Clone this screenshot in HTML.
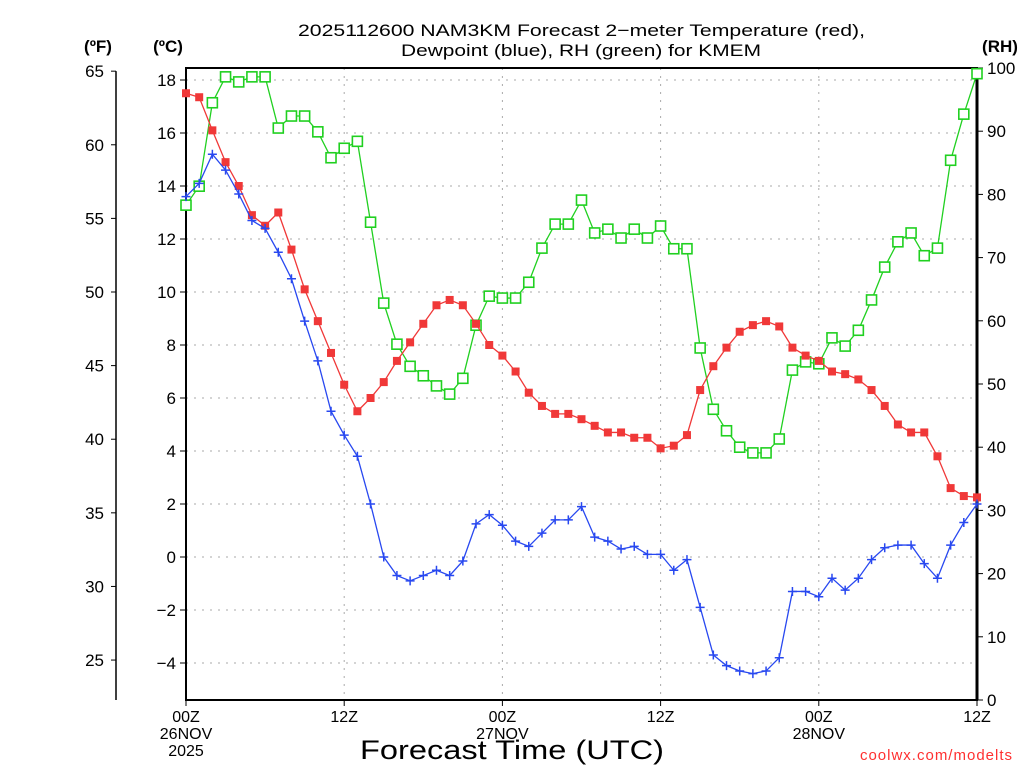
<!DOCTYPE html>
<html><head><meta charset="utf-8"><style>
html,body{margin:0;padding:0;background:#fff;}
svg{display:block;font-family:"Liberation Sans","DejaVu Sans",sans-serif;}
</style></head><body>
<svg id="chart" width="1024" height="768" viewBox="0 0 1024 768" xmlns="http://www.w3.org/2000/svg">
<rect width="1024" height="768" fill="#fff"/>
<g font-size="17" fill="#000">
<text x="298" y="36" textLength="567" lengthAdjust="spacingAndGlyphs">2025112600 NAM3KM Forecast 2−meter Temperature (red),</text>
<text x="401" y="56" textLength="360" lengthAdjust="spacingAndGlyphs">Dewpoint (blue), RH (green) for KMEM</text>
</g>
<text x="98" y="52" font-size="17" font-weight="bold" text-anchor="middle">(ºF)</text>
<text x="168" y="52" font-size="17" font-weight="bold" text-anchor="middle">(ºC)</text>
<text x="1000" y="52" font-size="17" font-weight="bold" text-anchor="middle">(RH)</text>
<g id="grid"></g>
<g id="axes"></g>
<g id="series"></g>
<text x="360" y="759" font-size="27" textLength="304" lengthAdjust="spacingAndGlyphs">Forecast Time (UTC)</text>
<text x="1013" y="760" font-size="15" fill="#ff3030" text-anchor="end" letter-spacing="1">coolwx.com/modelts</text>
</svg>
<script>
const hours = Array.from({length:61},(_,i)=>i);
const tempC = [17.5,17.35,16.1,14.9,14.0,12.9,12.5,13.0,11.6,10.1,8.9,7.7,6.5,5.5,6.0,6.6,7.4,8.1,8.8,9.5,9.7,9.5,8.8,8.0,7.6,7.0,6.2,5.7,5.4,5.4,5.2,4.95,4.7,4.7,4.5,4.5,4.1,4.2,4.6,6.3,7.2,7.9,8.5,8.75,8.9,8.7,7.9,7.6,7.4,7.0,6.9,6.7,6.3,5.7,5.0,4.7,4.7,3.8,2.6,2.3,2.25];
const dewC = [13.6,14.1,15.2,14.6,13.7,12.7,12.4,11.5,10.5,8.9,7.4,5.5,4.6,3.8,2.0,0.0,-0.7,-0.9,-0.7,-0.5,-0.7,-0.15,1.25,1.6,1.2,0.6,0.4,0.9,1.4,1.4,1.9,0.75,0.6,0.3,0.4,0.1,0.1,-0.5,-0.1,-1.9,-3.7,-4.1,-4.3,-4.4,-4.3,-3.8,-1.3,-1.3,-1.5,-0.8,-1.25,-0.8,-0.1,0.35,0.45,0.45,-0.25,-0.8,0.45,1.3,2.0];
const rh = [78.3,81.3,94.5,98.6,97.8,98.6,98.6,90.5,92.4,92.4,89.9,85.8,87.3,88.4,75.6,62.8,56.3,52.8,51.3,49.7,48.4,50.9,59.3,63.9,63.6,63.6,66.1,71.5,75.3,75.3,79.1,73.9,74.5,73.1,74.5,73.1,75.0,71.4,71.4,55.7,46.0,42.6,40.0,39.1,39.1,41.3,52.2,53.5,53.2,57.3,56.0,58.5,63.3,68.5,72.5,73.9,70.3,71.5,85.4,92.7,99.1];
const cTicks = [-4,-2,0,2,4,6,8,10,12,14,16,18];
const fTicks = [25,30,35,40,45,50,55,60,65];
const rhTicks = [0,10,20,30,40,50,60,70,80,90,100];
const xTickHours = [0,12,24,36,48,60];
const xTickLabels = [["00Z","26NOV","2025"],["12Z"],["00Z","27NOV"],["12Z"],["00Z","28NOV"],["12Z"]];

const L=186,R=977,T=68,B=700;
const xs = h => L + h*(R-L)/60;
const yC = c => 557 - c*26.5;
const yF = f => yC((f-32)*5/9);
const yRH = r => B - r*(B-T)/100;
const NS="http://www.w3.org/2000/svg";
function mk(tag, parent, attrs){const e=document.createElementNS(NS,tag);for(const k in attrs)e.setAttribute(k,attrs[k]);parent.appendChild(e);return e;}
const grid=document.getElementById('grid'), axes=document.getElementById('axes'), series=document.getElementById('series');

cTicks.forEach(c=>{
  const y=yC(c);
  const g=mk('line',grid,{x1:L,x2:R,y1:y,y2:y,stroke:'#aaa','stroke-dasharray':'2,6'});
  
  
  mk('line',axes,{x1:L-6,x2:L,y1:y,y2:y,stroke:'#000'});
  const t=mk('text',axes,{x:L-10,y:y+6,'font-size':17,'text-anchor':'end'});
  t.textContent=(c<0?'−'+(-c):c);
  
  
});
xTickHours.forEach((h,i)=>{
  const x=xs(h);
  if(h>0&&h<60){const g=mk('line',grid,{x1:x,x2:x,y1:T,y2:B,stroke:'#aaa','stroke-dasharray':'2,6'});
  
  }
  mk('line',axes,{x1:x,x2:x,y1:B,y2:B+6,stroke:'#000'});
  xTickLabels[i].forEach((s,j)=>{
    const t=mk('text',axes,{x:x,y:B+22+j*17,'font-size':16,'text-anchor':'middle'});
    t.textContent=s;
    
    
  });
});
mk('line',axes,{x1:116,x2:116,y1:yF(65),y2:B,stroke:'#000','stroke-width':1.5});
fTicks.forEach(f=>{
  const y=yF(f);
  mk('line',axes,{x1:111,x2:116,y1:y,y2:y,stroke:'#000'});
  const t=mk('text',axes,{x:104,y:y+6,'font-size':17,'text-anchor':'end'});
  t.textContent=f;
  
  
});
rhTicks.forEach(r=>{
  const y=yRH(r);
  mk('line',axes,{x1:R,x2:R+6,y1:y,y2:y,stroke:'#000'});
  const t=mk('text',axes,{x:R+10,y:y+6,'font-size':17,'text-anchor':'start'});
  t.textContent=r;
  
  
});
mk('rect',axes,{x:L,y:T,width:R-L,height:B-T,fill:'none',stroke:'#000','stroke-width':2});
mk('line',axes,{x1:R,x2:R,y1:T,y2:B,stroke:'#000','stroke-width':3});

function pts(vals,fy){return vals.map((v,i)=>xs(hours[i])+','+fy(v)).join(' ');}
const rl=mk('polyline',series,{points:pts(rh,yRH),fill:'none',stroke:'#20d020','stroke-width':1.3});


rh.forEach((v,i)=>{
  const m=mk('rect',series,{x:xs(hours[i])-5,y:yRH(v)-5,width:10,height:10,fill:'#fff',stroke:'#20d020','stroke-width':1.6});
  
  
});
const tl=mk('polyline',series,{points:pts(tempC,yC),fill:'none',stroke:'#f03838','stroke-width':1.3});


tempC.forEach((v,i)=>{
  const m=mk('rect',series,{x:xs(hours[i])-4,y:yC(v)-4,width:8,height:8,fill:'#f03838'});
  
  
});
const dl=mk('polyline',series,{points:pts(dewC,yC),fill:'none',stroke:'#2848f0','stroke-width':1.3});


dewC.forEach((v,i)=>{
  const x=xs(hours[i]),y=yC(v);
  const m=mk('path',series,{d:`M${x-4.5},${y}H${x+4.5}M${x},${y-4.5}V${y+4.5}`,stroke:'#2848f0','stroke-width':1.5});
  
  
});
</script>
</body></html>
